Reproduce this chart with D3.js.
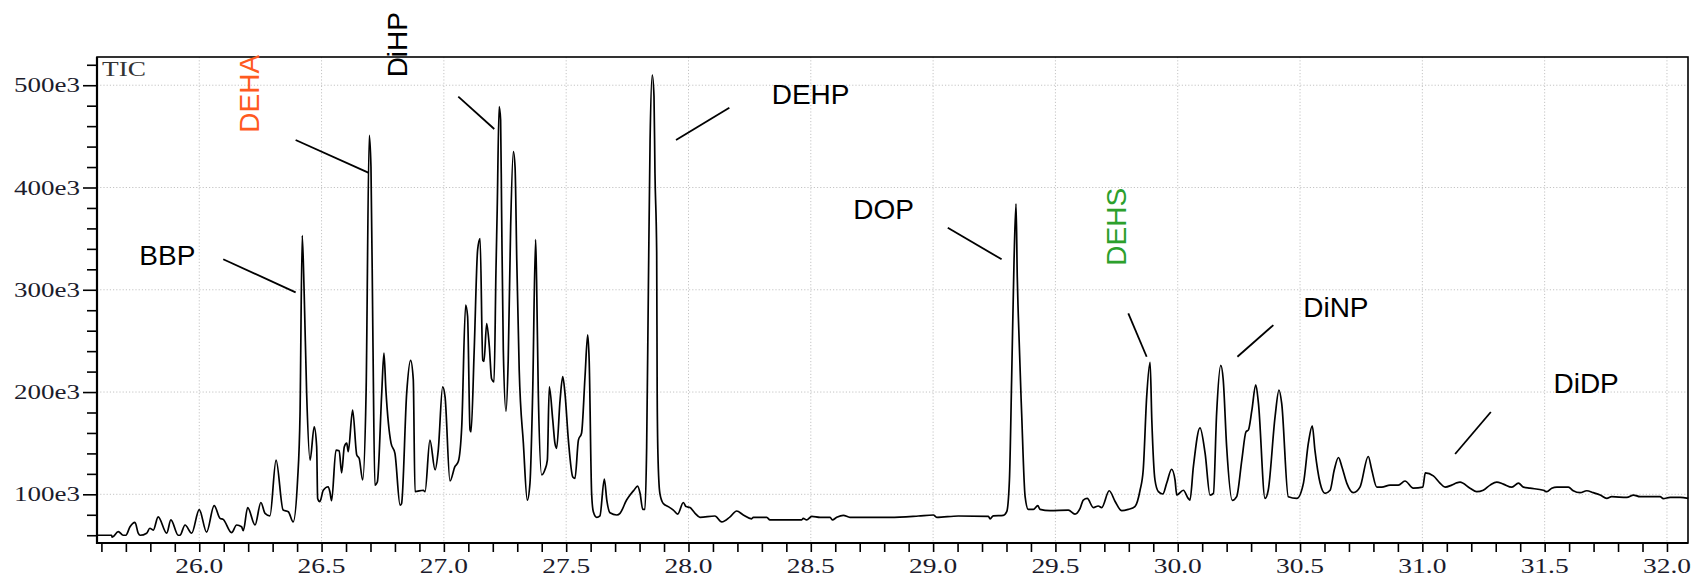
<!DOCTYPE html>
<html><head><meta charset="utf-8">
<script src="https://cdn.jsdelivr.net/npm/d3@7"></script>
<style>html,body{margin:0;padding:0;background:#fff;}svg{display:block;}</style>
</head><body>
<script>
// Retention time (min)
const times = [25.581,25.642,25.644,25.669,25.689,25.700,25.717,25.737,25.751,25.758,25.785,25.798,25.812,25.832,25.867,25.884,25.914,25.921,25.942,25.969,
26.000,26.030,26.061,26.085,26.098,26.132,26.153,26.173,26.180,26.198,26.228,26.252,26.269,26.289,26.314,26.343,26.364,26.384,26.402,26.412,
26.421,26.429,26.439,26.453,26.470,26.480,26.484,26.493,26.507,26.527,26.534,26.541,26.559,26.572,26.582,26.593,26.603,26.609,26.627,26.644,
26.654,26.668,26.682,26.695,26.702,26.710,26.718,26.728,26.746,26.755,26.763,26.784,26.800,26.821,26.827,26.848,26.864,26.875,26.882,26.916,
26.923,26.943,26.964,26.977,26.995,27.005,27.025,27.045,27.059,27.073,27.089,27.097,27.107,27.111,27.124,27.138,27.148,27.159,27.164,27.175,
27.186,27.195,27.205,27.213,27.218,27.226,27.232,27.236,27.243,27.254,27.263,27.273,27.284,27.291,27.298,27.308,27.325,27.341,27.352,27.363,
27.375,27.379,27.386,27.400,27.413,27.423,27.431,27.445,27.454,27.461,27.475,27.486,27.495,27.509,27.527,27.536,27.550,27.563,27.577,27.588,
27.594,27.604,27.611,27.625,27.638,27.656,27.666,27.679,27.707,27.720,27.747,27.761,27.777,27.792,27.802,27.813,27.822,27.829,27.836,27.843,
27.852,27.859,27.863,27.870,27.872,27.875,27.883,27.897,27.917,27.938,27.956,27.979,27.990,28.006,28.027,28.047,28.108,28.136,28.170,28.197,
28.224,28.258,28.265,28.320,28.333,28.463,28.469,28.483,28.504,28.538,28.579,28.588,28.606,28.633,28.660,28.824,28.940,29.001,29.015,29.103,
29.226,29.233,29.246,29.287,29.301,29.312,29.321,29.331,29.339,29.344,29.348,29.362,29.376,29.389,29.410,29.428,29.437,29.478,29.553,29.580,
29.601,29.614,29.630,29.655,29.675,29.689,29.720,29.744,29.771,29.798,29.825,29.846,29.859,29.873,29.887,29.894,29.907,29.921,29.939,29.955,
29.975,29.989,29.996,30.023,30.043,30.050,30.064,30.091,30.112,30.132,30.146,30.159,30.176,30.186,30.200,30.223,30.241,30.262,30.279,30.289,
30.303,30.319,30.330,30.357,30.370,30.398,30.414,30.425,30.452,30.487,30.514,30.534,30.550,30.561,30.582,30.602,30.623,30.640,30.657,30.671,
30.691,30.718,30.745,30.779,30.793,30.814,30.834,30.868,30.902,30.929,30.963,31.002,31.012,31.045,31.072,31.093,31.120,31.138,31.154,31.195,
31.222,31.249,31.277,31.304,31.331,31.366,31.393,31.413,31.440,31.495,31.509,31.529,31.550,31.597,31.617,31.645,31.672,31.699,31.727,31.754,
31.774,31.836,31.863,31.890,31.972,31.985,32.013,32.054,32.087];
// Total ion current (x1e3)
const tic = [60,60,58,63.5,60,60,68.3,72.6,61.8,60,62,66.8,65,78,62,75,60,60,70,62,
85,63,89,76.5,75.5,62.5,70,68.3,64.4,87,70,92,81.4,79,133.5,84.6,83,73,114,179,
353,296,199,133.5,166,146.5,96,92.8,104,107.4,102.5,93.7,143.3,142.6,121,146.5,150,141.7,182.4,138.4,
135,114,199,451,420,250,109,112,199,238,202,150,140,89.5,91,199,231,212,102.6,104,
102.6,153,124,143,205,195,113,127,132,166,285,274,163,161,241,339,350,231,230,267,
244,213,210,319,378,479,466,378,241,181,231,362,435,420,329,221.5,150,94.4,111,199,
349,309.5,199,119,124,133.5,205,173,150,145,192,215,199,153,117,115.6,153,160,215,256,
231,101,83,77.5,79,115,94.4,82,79.8,81.4,94.4,99.3,104,108,101,85.3,85.3,146.5,300,446,
510,489,414,336,200,140,101,91,88,84.6,80.7,92,88,87,81.4,77.5,78.8,73,78,83.7,
79.8,76,77.5,77.5,75,75,76.5,75,78.5,77.5,77.5,75,77.5,79.5,77.5,77.5,78.8,79.8,77.5,78.8,
78.5,76,79,79.5,83,114,212,330,384,313,277,179,98,85.3,85.3,89,85.3,84,84.6,80.7,
86.3,94.4,96,87,88.6,87,103.5,93,84,85.3,88,104,124,195,229,173,114,102.6,100.3,111,
124.5,114,99.3,104,96,94.4,127,165,140,99.3,101,179,226,212,146.5,94,97.7,133.5,161,163,
182,207,189,96,104,176,202,189,97.7,96,111,150,167,143,111,101,104,124,136,127,
111,101.6,107,137,124,107,107,109,109,113,106,107,121,118,111,107,109,111,112,106,
102.6,104,109,112,110,107,111,107,106,104,102.6,106,107,107,103.5,101.6,103.5,101.6,99.3,96,
97.7,97,99.3,97.7,97.7,95.7,97,97,96];

const xMajorTicks = [26.0,26.5,27.0,27.5,28.0,28.5,29.0,29.5,30.0,30.5,31.0,31.5,32.0];
const yMajorTicks = [100,200,300,400,500];
const yTickLabels = ["100e3","200e3","300e3","400e3","500e3"];

// Compound annotations: label anchor (t, v) and leader line ends (t1,v1)-(t2,v2)
const compounds = ["BBP","DEHA","DiHP","DEHP","DOP","DEHS","DiNP","DiDP"];
const labelT = [25.755,26.245,26.850,28.340,28.674,29.789,30.513,31.536];
const labelV = [324.2,453.6,507.7,481.6,369.2,323.5,273.7,198.8];
const labelRotated = [false,true,true,false,false,true,false,false];
const labelColor = ["#000","#ff5a1f","#000","#000","#000","#2ca02c","#000","#000"];
const leadT1 = [26.098,26.394,27.059,27.949,29.060,29.798,30.244,31.134];
const leadV1 = [329.8,446.4,488.8,446.4,360.7,277.0,234.5,139.4];
const leadT2 = [26.394,26.691,27.206,28.167,29.280,29.873,30.391,31.280];
const leadV2 = [297.5,414.5,457.2,478.0,329.8,234.5,265.5,180.5];

const W = 1694, H = 577;
const m = {left:97, right:6, top:57, bottom:34};
const svg = d3.select("body").append("svg").attr("width",W).attr("height",H);

const x = d3.scaleLinear().domain([25.582,32.086]).range([m.left, W-m.right]);
const y = d3.scaleLinear().domain([52.4,527.6]).range([H-m.bottom, m.top]);

// grid
const g = svg.append("g");
g.selectAll("line.vg").data(xMajorTicks).join("line")
  .attr("x1",d=>x(d)).attr("x2",d=>x(d)).attr("y1",m.top).attr("y2",H-m.bottom)
  .attr("stroke","#c4c4c4").attr("stroke-width",1).attr("stroke-dasharray","1.2,2");
g.selectAll("line.hg").data(yMajorTicks).join("line")
  .attr("x1",m.left).attr("x2",W-m.right).attr("y1",d=>y(d)).attr("y2",d=>y(d))
  .attr("stroke","#c4c4c4").attr("stroke-width",1).attr("stroke-dasharray","1.2,2");

// trace
const pts = times.map((t,i)=>[t,tic[i]]);
svg.append("path").datum(pts)
  .attr("d", d3.line().curve(d3.curveMonotoneX).x(d=>x(d[0])).y(d=>y(d[1])))
  .attr("fill","none").attr("stroke","#000").attr("stroke-width",1.7).attr("stroke-linejoin","round");

// frame
svg.append("rect").attr("x",m.left).attr("y",m.top).attr("width",W-m.right-m.left).attr("height",H-m.bottom-m.top)
  .attr("fill","none").attr("stroke","#000").attr("stroke-width",1.6);
svg.append("line").attr("x1",m.left).attr("x2",m.left).attr("y1",m.top).attr("y2",H-m.bottom+1).attr("stroke","#000").attr("stroke-width",2.2);
svg.append("line").attr("x1",m.left-1).attr("x2",W-m.right).attr("y1",H-m.bottom).attr("y2",H-m.bottom).attr("stroke","#000").attr("stroke-width",2.2);

// x axis
const xAxis = d3.axisBottom(x).tickValues(d3.range(256,321).map(d=>d/10)).tickSize(9).tickFormat("");
const gx = svg.append("g").attr("transform",`translate(0,${H-m.bottom})`).call(xAxis);
gx.select(".domain").remove();
gx.selectAll(".tick line").attr("stroke","#000").attr("stroke-width",1.6);
svg.selectAll("text.xl").data(xMajorTicks).join("text")
  .attr("x",d=>x(d)).attr("y",573).attr("text-anchor","middle")
  .attr("font-family","Liberation Serif, Times New Roman, serif").attr("font-size",22)
  .attr("fill","#1c1c2c").attr("textLength",48).attr("lengthAdjust","spacingAndGlyphs")
  .text(d=>d.toFixed(1));

// y axis
const yAxisMinor = d3.axisLeft(y).tickValues(d3.range(60,521,20)).tickSize(10).tickFormat("");
const gy = svg.append("g").attr("transform",`translate(${m.left},0)`).call(yAxisMinor);
gy.select(".domain").remove();
gy.selectAll(".tick line").attr("stroke","#000").attr("stroke-width",1.6)
  .attr("x2",d=>yMajorTicks.includes(d)?-14:-10);
svg.selectAll("text.yl").data(yMajorTicks).join("text")
  .attr("x",80).attr("y",d=>y(d)).attr("dy","0.35em").attr("text-anchor","end")
  .attr("font-family","Liberation Serif, Times New Roman, serif").attr("font-size",20)
  .attr("fill","#1c1c2c").attr("textLength",66).attr("lengthAdjust","spacingAndGlyphs")
  .text((d,i)=>yTickLabels[i]);

// TIC label
svg.append("text").attr("x",m.left+5).attr("y",m.top+19)
  .attr("font-family","Liberation Serif, Times New Roman, serif").attr("font-size",21)
  .attr("fill","#333").attr("textLength",44).attr("lengthAdjust","spacingAndGlyphs").text("TIC");

// annotations
compounds.forEach((c,i)=>{
  svg.append("line").attr("x1",x(leadT1[i])).attr("y1",y(leadV1[i]))
    .attr("x2",x(leadT2[i])).attr("y2",y(leadV2[i]))
    .attr("stroke","#000").attr("stroke-width",1.8);
  const t = svg.append("text").attr("font-family","Liberation Sans, Arial, sans-serif")
    .attr("font-size",28).attr("fill",labelColor[i]).text(c);
  if (labelRotated[i]) {
    t.attr("transform",`translate(${x(labelT[i])},${y(labelV[i])}) rotate(-90)`);
  } else {
    t.attr("x",x(labelT[i])).attr("y",y(labelV[i]));
  }
});
</script>
</body></html>
